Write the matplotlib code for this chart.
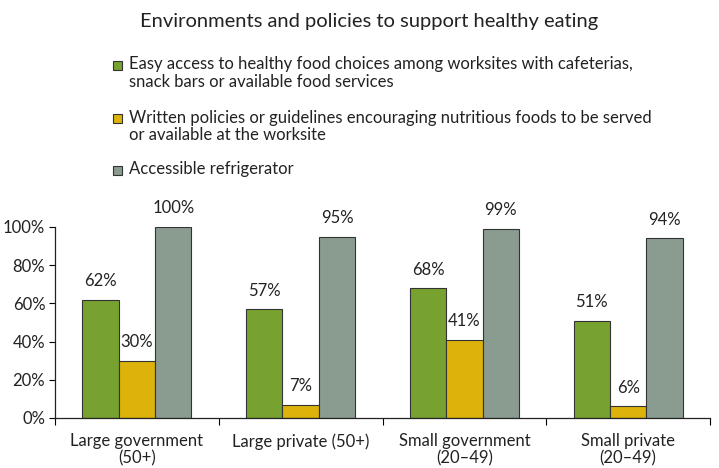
import matplotlib
matplotlib.use("Agg")
import matplotlib.pyplot as plt
import numpy as np
from matplotlib.patches import Rectangle

plt.rcParams['font.family'] = ['Lato', 'DejaVu Sans']

categories = ['Large government\n(50+)', 'Large private (50+)', 'Small government\n(20\u201349)', 'Small private\n(20\u201349)']
easy_access = [62, 57, 68, 51]
written_policies = [30, 7, 41, 6]
refrigerator = [100, 95, 99, 94]
series_names = [
    'Easy access to healthy food choices among worksites with cafeterias,\nsnack bars or available food services',
    'Written policies or guidelines encouraging nutritious foods to be served\nor available at the worksite',
    'Accessible refrigerator',
]
colors = ['#78A22F', '#DCB20B', '#8A9B90']

fig = plt.figure(figsize=(7.19, 4.68), dpi=100)
ax = fig.add_axes([0.0765, 0.107, 0.911, 0.408])

x = np.arange(len(categories))
w = 0.222
for i, (vals, c) in enumerate(zip([easy_access, written_policies, refrigerator], colors)):
    pos = x + (i - 1) * w
    ax.bar(pos, vals, width=w, color=c, edgecolor='#333333', linewidth=0.8)
    for p, v in zip(pos, vals):
        ax.text(p, v + 5.5, f'{v}%', ha='center', va='bottom', fontsize=12, color='#222222')

ax.set_xlim(-0.5, len(categories) - 0.5)
ax.set_ylim(0, 100)
ax.set_yticks(range(0, 101, 20))
ax.set_yticklabels([f'{v}%' for v in range(0, 101, 20)], fontsize=12, color='#222222')
ax.set_xticks(np.arange(-0.5, len(categories), 1), minor=False)
ax.set_xticklabels([])
ax.set_xticks(x, minor=True)
ax.set_xticklabels(categories, minor=True, fontsize=12, color='#222222', linespacing=1.05)
ax.tick_params(axis='x', which='minor', length=0, pad=11)
ax.tick_params(axis='x', which='major', length=5, direction='out')
ax.tick_params(axis='y', length=4, direction='out', pad=3)
for s in ['top', 'right']:
    ax.spines[s].set_visible(False)
for s in ['left', 'bottom']:
    ax.spines[s].set_color('#222222')
    ax.spines[s].set_linewidth(0.9)

fig.text(0.513, 0.955, 'Environments and policies to support healthy eating',
         ha='center', va='center', fontsize=14.5, color='#222222')

leg_y = [0.862, 0.748, 0.637]
for name, c, yy in zip(series_names, colors, leg_y):
    fig.patches.append(Rectangle((0.157, yy - 0.011), 0.012, 0.019, transform=fig.transFigure,
                                 facecolor=c, edgecolor='#333333', linewidth=0.8))
    fig.text(0.18, yy + 0.018, name, ha='left', va='top', fontsize=12, color='#222222',
             linespacing=1.15)

fig.savefig('out.png', dpi=100)
